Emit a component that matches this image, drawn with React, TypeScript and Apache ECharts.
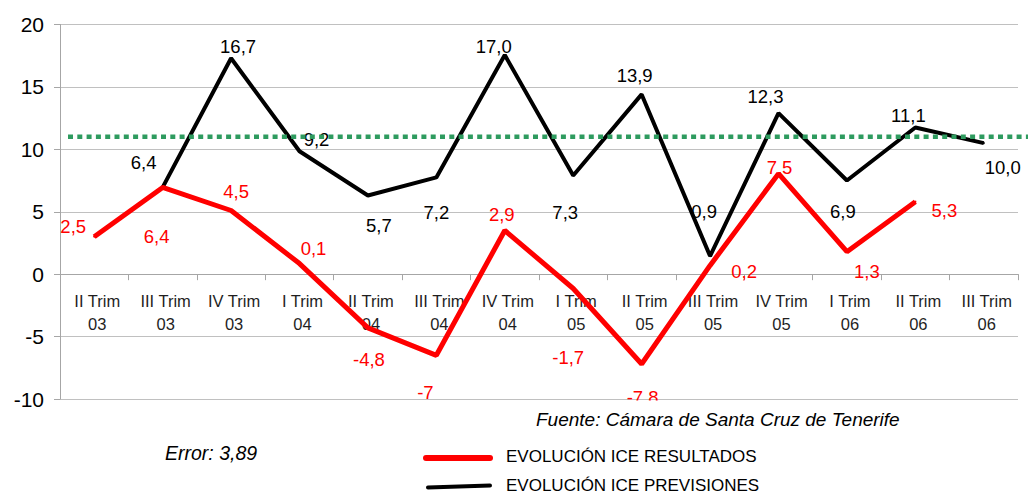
import React, { useEffect, useRef } from 'react';
import * as echarts from 'echarts';

// ---- data ----
const categories = [
  'II Trim\n03', 'III Trim\n03', 'IV Trim\n03', 'I Trim\n04', 'II Trim\n04', 'III Trim\n04', 'IV Trim\n04',
  'I Trim\n05', 'II Trim\n05', 'III Trim\n05', 'IV Trim\n05', 'I Trim\n06', 'II Trim\n06', 'III Trim\n06',
];
const resultados: (number | null)[] = [3.0, 6.95, 5.1, 0.85, -4.3, -6.5, 3.5, -1.15, -7.2, 0.7, 8.05, 1.8, 5.8, null];
const resultadosLabels = ['2,5', '6,4', '4,5', '0,1', '-4,8', '-7', '2,9', '-1,7', '-7,8', '0,2', '7,5', '1,3', '5,3', ''];
const previsiones: (number | null)[] = [null, 6.95, 17.3, 9.85, 6.3, 7.75, 17.55, 7.9, 14.4, 1.45, 12.9, 7.5, 11.75, 10.5];
const previsionesLabels = ['', '6,4', '16,7', '9,2', '5,7', '7,2', '17,0', '7,3', '13,9', '0,9', '12,3', '6,9', '11,1', '10,0'];
const referenceLevel = 11.0;
const yMin = -10;
const yMax = 20;
const yInterval = 5;
const seriesNames = ['EVOLUCIÓN ICE RESULTADOS', 'EVOLUCIÓN ICE PREVISIONES'];
const sourceText = 'Fuente: Cámara de Santa Cruz de Tenerife';
const errorText = 'Error: 3,89';

// ---- label placement (style) ----
const resultadosOffsets: [number, number][] = [
  [-21, -10], [-6, 49], [5, -19], [14, -15], [1, 32], [-11, 37], [-3, -16],
  [-5, 69], [1, 33], [34, 6], [1, -6], [20, 20], [29, 9], [0, 0],
];
const previsionesOffsets: [number, number][] = [
  [0, 0], [-19, -25], [7, -12], [17, -12], [11, 30], [0, 35], [-11, -9],
  [-8, 37], [-7, -19], [-6, -45], [-13, -17], [-4, 31], [-7, -12], [19, 24],
];

const FONT = '"Liberation Sans", Arial, Helvetica, sans-serif';

function buildData(values: (number | null)[], labels: string[], offsets: [number, number][], color: string) {
  return values.map((v, i) =>
    v == null
      ? null
      : {
          value: v,
          label: {
            show: true,
            position: 'inside',
            formatter: labels[i],
            offset: offsets[i],
            color,
            fontSize: 18.5,
            fontFamily: FONT,
            align: 'center',
            verticalAlign: 'middle',
          },
        }
  );
}

export default function App() {
  const ref = useRef<HTMLDivElement>(null);

  useEffect(() => {
    if (!ref.current) return;
    const chart = echarts.init(ref.current, null, { renderer: 'svg' });
    chart.setOption({
      animation: false,
      backgroundColor: '#ffffff',
      grid: { left: 60, right: 10, top: 24.5, bottom: 96, containLabel: false },
      xAxis: {
        type: 'category',
        data: categories,
        boundaryGap: true,
        position: 'bottom',
        axisLine: { onZero: false, lineStyle: { color: '#a6a6a6', width: 1 } },
        axisTick: { show: true, length: 6, lineStyle: { color: '#a6a6a6' } },
        axisLabel: {
          color: '#1f1f1f',
          fontSize: 16.5,
          fontFamily: FONT,
          lineHeight: 23,
          margin: 15,
          interval: 0,
          padding: [0, 0, 0, 6],
        },
        splitLine: { show: false },
      },
      yAxis: {
        type: 'value',
        min: yMin,
        max: yMax,
        interval: yInterval,
        axisLine: { show: true, lineStyle: { color: '#a6a6a6', width: 1 } },
        axisTick: { show: true, length: 6, lineStyle: { color: '#a6a6a6' } },
        axisLabel: { color: '#000000', fontSize: 21, fontFamily: FONT, margin: 16 },
        splitLine: { show: true, lineStyle: { color: '#c0c0c0', width: 1 } },
      },
      series: [
        {
          name: seriesNames[0],
          type: 'line',
          data: buildData(resultados, resultadosLabels, resultadosOffsets, '#ff0000'),
          symbol: 'circle',
          symbolSize: 2,
          showSymbol: true,
          itemStyle: { color: '#ff0000' },
          lineStyle: { color: '#ff0000', width: 5 },
          emphasis: { disabled: true },
          silent: true,
          z: 3,
        },
        {
          name: seriesNames[1],
          type: 'line',
          data: buildData(previsiones, previsionesLabels, previsionesOffsets, '#000000'),
          symbol: 'circle',
          symbolSize: 2,
          showSymbol: true,
          itemStyle: { color: '#000000' },
          lineStyle: { color: '#000000', width: 4 },
          emphasis: { disabled: true },
          silent: true,
          z: 2,
        },
      ],
    });

    const yRef = chart.convertToPixel({ yAxisIndex: 0 }, referenceLevel) as number;
    const yZero = chart.convertToPixel({ yAxisIndex: 0 }, 0) as number;
    const yBottom = chart.convertToPixel({ yAxisIndex: 0 }, yMin) as number;

    chart.setOption({
      xAxis: { offset: -(yBottom - yZero) },
      graphic: [
        {
          type: 'line',
          z: 10,
          shape: { x1: 68, y1: yRef, x2: 1028, y2: yRef },
          style: { stroke: '#2e9b5f', lineWidth: 4.5, lineDash: [5, 4.3] },
          silent: true,
        },
        {
          type: 'rect',
          z: 20,
          shape: { x: 528, y: 400.5, width: 390, height: 30 },
          style: { fill: '#ffffff' },
          silent: true,
        },
        {
          type: 'text',
          z: 21,
          x: 536,
          y: 419,
          style: {
            text: sourceText,
            fontSize: 19,
            fontStyle: 'italic',
            fontFamily: FONT,
            fill: '#000000',
            verticalAlign: 'middle',
            align: 'left',
          },
        },
        {
          type: 'text',
          z: 21,
          x: 165,
          y: 452.5,
          style: {
            text: errorText,
            fontSize: 19.5,
            fontStyle: 'italic',
            fontFamily: FONT,
            fill: '#000000',
            verticalAlign: 'middle',
            align: 'left',
          },
        },
        {
          type: 'line',
          z: 21,
          shape: { x1: 426, y1: 458, x2: 490, y2: 458 },
          style: { stroke: '#ff0000', lineWidth: 6, lineCap: 'round' },
        },
        {
          type: 'text',
          z: 21,
          x: 506,
          y: 456.5,
          style: {
            text: seriesNames[0],
            fontSize: 17,
            fontFamily: FONT,
            fill: '#000000',
            verticalAlign: 'middle',
            align: 'left',
          },
        },
        {
          type: 'line',
          z: 21,
          shape: { x1: 428, y1: 487.5, x2: 490, y2: 485.5 },
          style: { stroke: '#000000', lineWidth: 4, lineCap: 'round' },
        },
        {
          type: 'text',
          z: 21,
          x: 506,
          y: 485.5,
          style: {
            text: seriesNames[1],
            fontSize: 17,
            fontFamily: FONT,
            fill: '#000000',
            verticalAlign: 'middle',
            align: 'left',
          },
        },
      ],
    });

    return () => chart.dispose();
  }, []);

  return (
    <div
      ref={ref}
      style={{ position: 'absolute', left: 0, top: 0, width: 1028, height: 495, background: '#fff' }}
    />
  );
}
